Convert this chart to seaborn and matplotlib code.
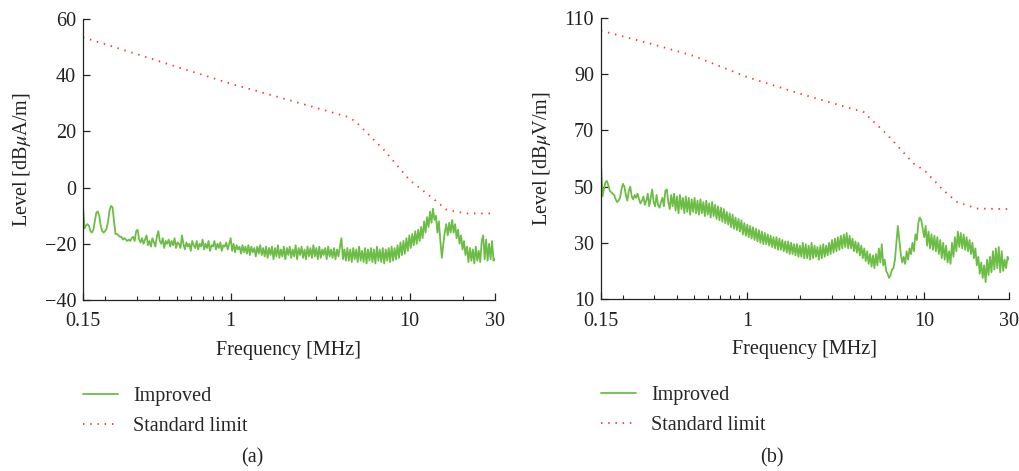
import numpy as np
import pandas as pd
import matplotlib
matplotlib.use("Agg")
import matplotlib.pyplot as plt
import seaborn as sns
from matplotlib.ticker import FixedLocator, NullFormatter

# ---- data ----
x_ticks = [0.15, 1, 10, 30]
x_ticklabels = ["0.15", "1", "10", "30"]

# (a) magnetic field, dBuA/m
a_limit_freq = [0.15, 0.3, 0.5, 1, 2, 4.5, 5, 7.2, 10, 13.1, 16.2, 20.8, 30]
a_limit_level = [53.5, 47.5, 43, 37, 31.6, 25.2, 23.5, 13.4, 2.7, -3.2, -8, -9.2, -9.2]
a_improved = [
    -6.5, -14.5, -13.5, -13, -13.5, -15.5, -16, -15, -12, -9,
    -8.5, -10, -13.5, -15.5, -16, -15.5, -14.5, -12, -8, -6.5,
    -7, -12, -16.5, -16.5, -17, -17.5, -17.5, -18.5, -18, -18.5,
    -19, -18.5, -19, -18, -17.5, -19, -15.5, -15, -18.5, -19.5,
    -18, -20, -18.5, -17, -20.5, -19, -21, -18, -19.5, -21,
    -17.5, -15.5, -19, -20, -18, -21.5, -19, -20, -18.5, -21,
    -19, -20.5, -18, -21.5, -19.5, -20, -21.5, -17, -20, -22,
    -19.5, -21, -20, -22.5, -19, -20.5, -21.5, -19, -22, -20,
    -21, -18.5, -22, -20, -21.5, -19, -22.5, -20.5, -21, -19,
    -22, -20, -21.5, -19.5, -22.5, -20.5, -21, -19.5, -22, -20,
    -18, -22.5, -20, -23, -20.5, -22, -21, -23.5, -20.5, -23,
    -21, -23.5, -20.5, -24, -21, -23, -21.5, -24.5, -21, -23.5,
    -20.5, -24, -21.5, -24.5, -21, -25, -21.5, -24, -21, -25.5,
    -21.5, -24.5, -20.5, -25, -22, -24.5, -21, -25.5, -21.5, -24,
    -21, -25, -22, -24.5, -20.5, -25.5, -21.5, -24, -21, -25,
    -22, -25.5, -21, -24.5, -21.5, -25, -20.5, -24.5, -21.5, -25.5,
    -21, -25, -22, -24, -21.5, -25.5, -21, -24.5, -22, -25,
    -21.5, -25.5, -22, -24.5, -21, -18, -25.5, -22, -26, -21.5,
    -26, -22, -26.5, -21.5, -25.5, -22, -26.5, -21, -26, -22.5,
    -26.5, -21.5, -27, -22, -26, -21.5, -26.5, -22, -27, -21,
    -26, -22, -26.5, -21.5, -27, -22, -26, -21.5, -26.5, -21,
    -26, -21.5, -25.5, -20.5, -25, -19.5, -24, -19, -23.5, -18,
    -22.5, -17, -21.5, -16.5, -20.5, -15.5, -20, -15, -19, -14,
    -18, -12, -16, -10.5, -14, -8.5, -12.5, -7.5, -11.5, -10,
    -16, -12, -19, -25, -20, -16, -13, -17, -12.5, -16,
    -11.5, -16, -13, -18, -15, -20, -17, -22, -19, -24,
    -21, -26.5, -21.5, -26, -22, -27, -21, -26, -22.5, -26.5,
    -19, -17, -25.5, -18.5, -26, -20, -25.5, -19, -26, -25.5,
]

# (b) electric field, dBuV/m
b_limit_freq = [0.15, 0.3, 0.5, 1, 2, 4.55, 6.1, 8.7, 10, 12.8, 15.2, 19.7, 30]
b_limit_level = [105.5, 100.5, 96.5, 89, 83, 76.5, 68.8, 58.2, 55.8, 48.7, 44.6, 42.2, 42]
b_improved = [
    58, 46.5, 49, 51.5, 52, 50.5, 48.5, 48, 47.5, 47,
    45.5, 44.5, 45, 46, 49, 51, 50, 47, 45, 48.5,
    50, 46.5, 45.5, 47, 46, 47.5, 45.5, 44, 45, 46.5,
    43.5, 45, 47.5, 43, 46, 49, 44.5, 43, 47, 43.5,
    42.5, 44.5, 46, 43, 48.5, 49, 44.5, 42, 47, 43,
    47.5, 41.5, 46.5, 40.5, 47, 42, 46, 40.5, 46.5, 41,
    46, 40, 45.5, 41, 46, 40.5, 45, 40, 45.5, 40.5,
    44.5, 39.5, 45, 40, 44, 39, 44.5, 39.5, 43.5, 38.5,
    43, 38, 42.5, 37.5, 42, 37, 41, 36.5, 40.5, 35.5,
    40, 35, 39, 34.5, 38.5, 34, 38, 33, 37, 32.5,
    36.5, 32, 36, 31.5, 35.5, 31, 35, 30.5, 34.5, 30,
    34, 29.5, 33.5, 29.5, 33, 29, 32.5, 28.5, 32, 28,
    32, 27.5, 31.5, 27.5, 31, 27, 30.5, 26.5, 30.5, 26,
    30, 26, 29.5, 25.5, 29.5, 25, 29, 25, 30, 24.5,
    29.5, 24.5, 29, 24, 30, 24.5, 29, 25, 28.5, 24,
    29, 24.5, 29.5, 25, 29, 25.5, 30, 26, 31, 26.5,
    31.5, 27, 32, 27.5, 32.5, 28, 33, 28.5, 33.5, 28,
    32.5, 28, 31.5, 27, 30.5, 26.5, 30, 25.5, 29, 24.5,
    28, 23.5, 27, 22.5, 26, 21.5, 25.5, 21, 26, 22,
    28, 23, 29.5, 22, 24, 20, 19, 17.5, 18.5, 20.5,
    21, 24, 30, 36, 31, 26, 23, 25, 22.5, 27,
    24, 28, 26, 30, 27, 33, 31, 37, 39, 38,
    35, 32, 36, 29, 34, 28, 33, 27.5, 32.5, 27,
    32, 26, 31, 24.5, 30, 24, 29, 23, 27, 22.5,
    30, 25, 32, 27, 34, 28.5, 33.5, 28, 33, 27.5,
    32, 27, 31, 26, 30, 24.5, 28, 22, 25, 19,
    23, 17.5, 22, 16, 24, 18.5, 25, 19.5, 27, 20.5,
    28, 21, 28.5, 19.5, 27, 20, 24, 21, 25, 24,
]

sweep_freq = np.geomspace(0.15, 30, len(a_improved))

GREEN = "#6cbd45"
RED = "#ff3333"
INK = "#222222"
FS = 14.5

sns.set_style("ticks")
plt.rcParams["font.family"] = ["Liberation Serif", "DejaVu Serif"]
plt.rcParams["mathtext.fontset"] = "stix"
plt.rcParams["axes.unicode_minus"] = True

fig = plt.figure(figsize=(10.2, 4.71), dpi=100)
ax_a = fig.add_axes([83 / 1020, 1 - 300 / 471, 412 / 1020, 281 / 471])
ax_b = fig.add_axes([601 / 1020, 1 - 299 / 471, 408 / 1020, 281 / 471])

panels = [
    (ax_a, a_improved, a_limit_freq, a_limit_level, (-40, 60), [-40, -20, 0, 20, 40, 60],
     r"Level [dB$\mu$A/m]", "(a)", 252),
    (ax_b, b_improved, b_limit_freq, b_limit_level, (10, 110), [10, 30, 50, 70, 90, 110],
     r"Level [dB$\mu$V/m]", "(b)", 772),
]

for ax, improved, lim_f, lim_v, ylim, yticks, ylabel, tag, tag_x in panels:
    df_imp = pd.DataFrame({"freq": sweep_freq, "level": improved})
    df_lim = pd.DataFrame({"freq": lim_f, "level": lim_v})
    sns.lineplot(data=df_imp, x="freq", y="level", ax=ax, color=GREEN,
                 linewidth=1.3, estimator=None, label="Improved")
    sns.lineplot(data=df_lim, x="freq", y="level", ax=ax, color=RED,
                 linewidth=1.3, estimator=None, linestyle=(0, (0.8, 3.2)),
                 label="Standard limit")

    ax.set_xscale("log")
    ax.set_xlim(0.15, 30)
    ax.set_ylim(*ylim)
    ax.xaxis.set_major_locator(FixedLocator(x_ticks))
    ax.set_xticklabels(x_ticklabels)
    ax.xaxis.set_minor_locator(FixedLocator(
        [0.2, 0.3, 0.4, 0.5, 0.6, 0.7, 0.8, 0.9, 2, 3, 4, 5, 6, 7, 8, 9, 20]))
    ax.xaxis.set_minor_formatter(NullFormatter())
    ax.set_yticks(yticks)
    ax.tick_params(axis="both", which="major", direction="in", length=5,
                   width=0.9, labelsize=FS, colors=INK, pad=5)
    ax.tick_params(axis="x", which="major", pad=9)
    ax.tick_params(axis="x", which="minor", direction="in", length=3, width=0.8,
                   colors=INK)
    ax.tick_params(axis="y", which="minor", left=False)
    for side in ["left", "bottom"]:
        ax.spines[side].set_color(INK)
        ax.spines[side].set_linewidth(0.9)
    sns.despine(ax=ax)

    ax.set_xlabel("Frequency [MHz]", fontsize=FS, color=INK, labelpad=7)
    ax.set_ylabel(ylabel, fontsize=FS, color=INK, labelpad=8)

    ax.legend(loc="upper left", bbox_to_anchor=(0.0, -0.31), frameon=False,
              fontsize=FS, handlelength=1.75, handletextpad=0.75,
              labelspacing=0.55, borderpad=0, borderaxespad=0)
    fig.text(tag_x / 1020, 1 - 458 / 471, tag, ha="center", va="center",
             fontsize=FS, color=INK)

fig.savefig("out.png", dpi=100)
